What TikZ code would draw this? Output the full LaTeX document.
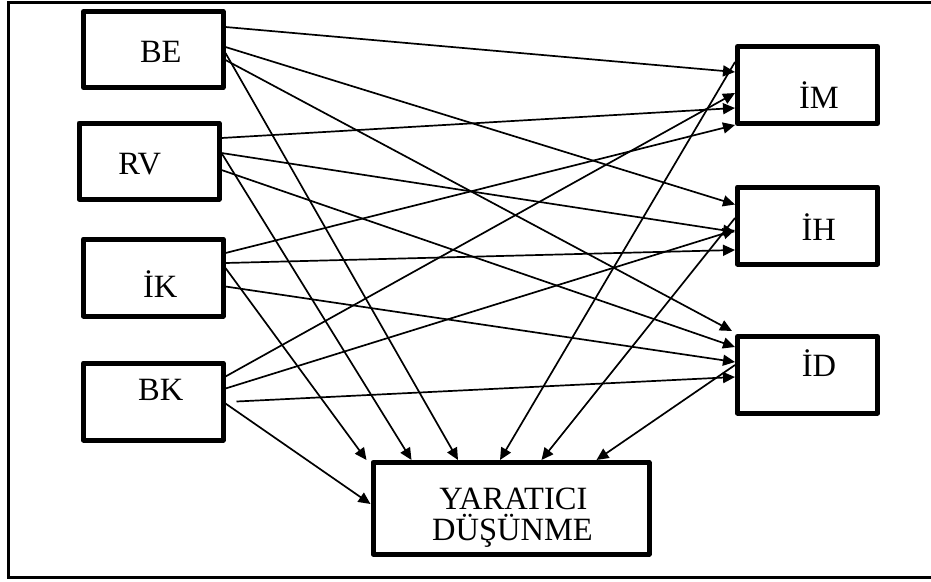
\documentclass[tikz,border=0pt]{standalone}
\usepackage{fontspec}
\setmainfont{Liberation Serif}
\usetikzlibrary{arrows.meta}
\begin{document}
\begin{tikzpicture}[x=1pt,y=-1pt,
  box/.style={draw, line width=5pt, line join=round, inner sep=0pt},
  lbl/.style={font=\fontsize{32.5}{33}\selectfont, anchor=base, inner sep=0pt},
  arr/.style={line width=1.7pt, -{Triangle[length=12pt,width=11pt]}},
  frame/.style={line width=3pt}]
\useasboundingbox (0,0) rectangle (931,581);
\draw[frame] (931,2.5) -- (8.5,2.5) -- (8.5,577.5) -- (931,577.5);
% boxes
\node[box, minimum width=139.5pt, minimum height=76pt] (BE) at (153.25,49.5) {};
\node[box, minimum width=140pt, minimum height=76pt] (RV) at (149,161) {};
\node[box, minimum width=139.5pt, minimum height=77pt] (IK) at (153.25,277.5) {};
\node[box, minimum width=139.5pt, minimum height=77pt] (BK) at (153.25,401.5) {};
\node[box, minimum width=140pt, minimum height=77pt] (IM) at (807.5,85) {};
\node[box, minimum width=140pt, minimum height=77pt] (IH) at (807.5,225.5) {};
\node[box, minimum width=140pt, minimum height=76.5pt] (ID) at (807.5,374.75) {};
\node[box, minimum width=276pt, minimum height=91.5pt] (YD) at (511,508.25) {};
% texts
\node[lbl] (BEt) at (160.8,62.7) {BE};
\node[lbl] (RVt) at (139.7,174) {RV};
\node[lbl] (IKt) at (160.3,297.3) {İK};
\node[lbl] (BKt) at (160.8,400) {BK};
\node[lbl] (IMt) at (819,108) {İM};
\node[lbl] (IHt) at (818.8,240.7) {İH};
\node[lbl] (IDt) at (819,376.7) {İD};
\node[lbl] (YDa) at (513.3,509) {YARATICI};
\node[lbl] (YDb) at (512.5,540.5) {DÜŞÜNME};
% BE
\draw[arr] ([yshift=-18pt]BE.north east) -- ([yshift=-28pt]IM.north west);
\draw[arr] ([yshift=-38pt]BE.north east) -- ([yshift=-20pt]IH.north west);
\draw[arr] ([yshift=-51pt]BE.north east) -- ([xshift=-3pt,yshift=3pt]ID.north west);
\draw[arr] ([yshift=-44pt]BE.north east) -- ([xshift=87.5pt]YD.north west);
% RV
\draw[arr] ([yshift=-17.5pt]RV.north east) -- ([yshift=-64pt]IM.north west);
\draw[arr] ([yshift=-32.5pt]RV.north east) -- ([yshift=-47.5pt]IH.north west);
\draw[arr] ([yshift=-49.5pt]RV.north east) -- ([yshift=-13pt]ID.north west);
\draw[arr] ([yshift=-32.5pt]RV.north east) -- ([xshift=41pt]YD.north west);
% IK
\draw[arr] ([yshift=-16.5pt]IK.north east) -- ([yshift=-81pt]IM.north west);
\draw[arr] ([yshift=-26.5pt]IK.north east) -- ([yshift=-65.5pt]IH.north west);
\draw[arr] ([yshift=-50pt]IK.north east) -- ([yshift=-28pt]ID.north west);
\draw[arr] ([yshift=-31.5pt]IK.north east) -- ([xshift=-4pt]YD.north west);
% BK
\draw[arr] ([yshift=-16pt]BK.north east) -- ([yshift=-49pt]IM.north west);
\draw[arr] ([yshift=-28pt]BK.north east) -- ([yshift=-45.5pt]IH.north west);
\draw[arr] ([xshift=11pt,yshift=-41pt]BK.north east) -- ([yshift=-43pt]ID.north west);
\draw[arr] ([yshift=-43pt]BK.north east) -- ([yshift=-44pt]YD.north west);
% right boxes to YD
\draw[arr] ([yshift=-18pt]IM.north west) -- ([xshift=129.5pt]YD.north west);
\draw[arr] ([yshift=-33.5pt]IH.north west) -- ([xshift=171pt]YD.north west);
\draw[arr] ([yshift=-31pt]ID.north west) -- ([xshift=226pt]YD.north west);
\end{tikzpicture}
\end{document}
